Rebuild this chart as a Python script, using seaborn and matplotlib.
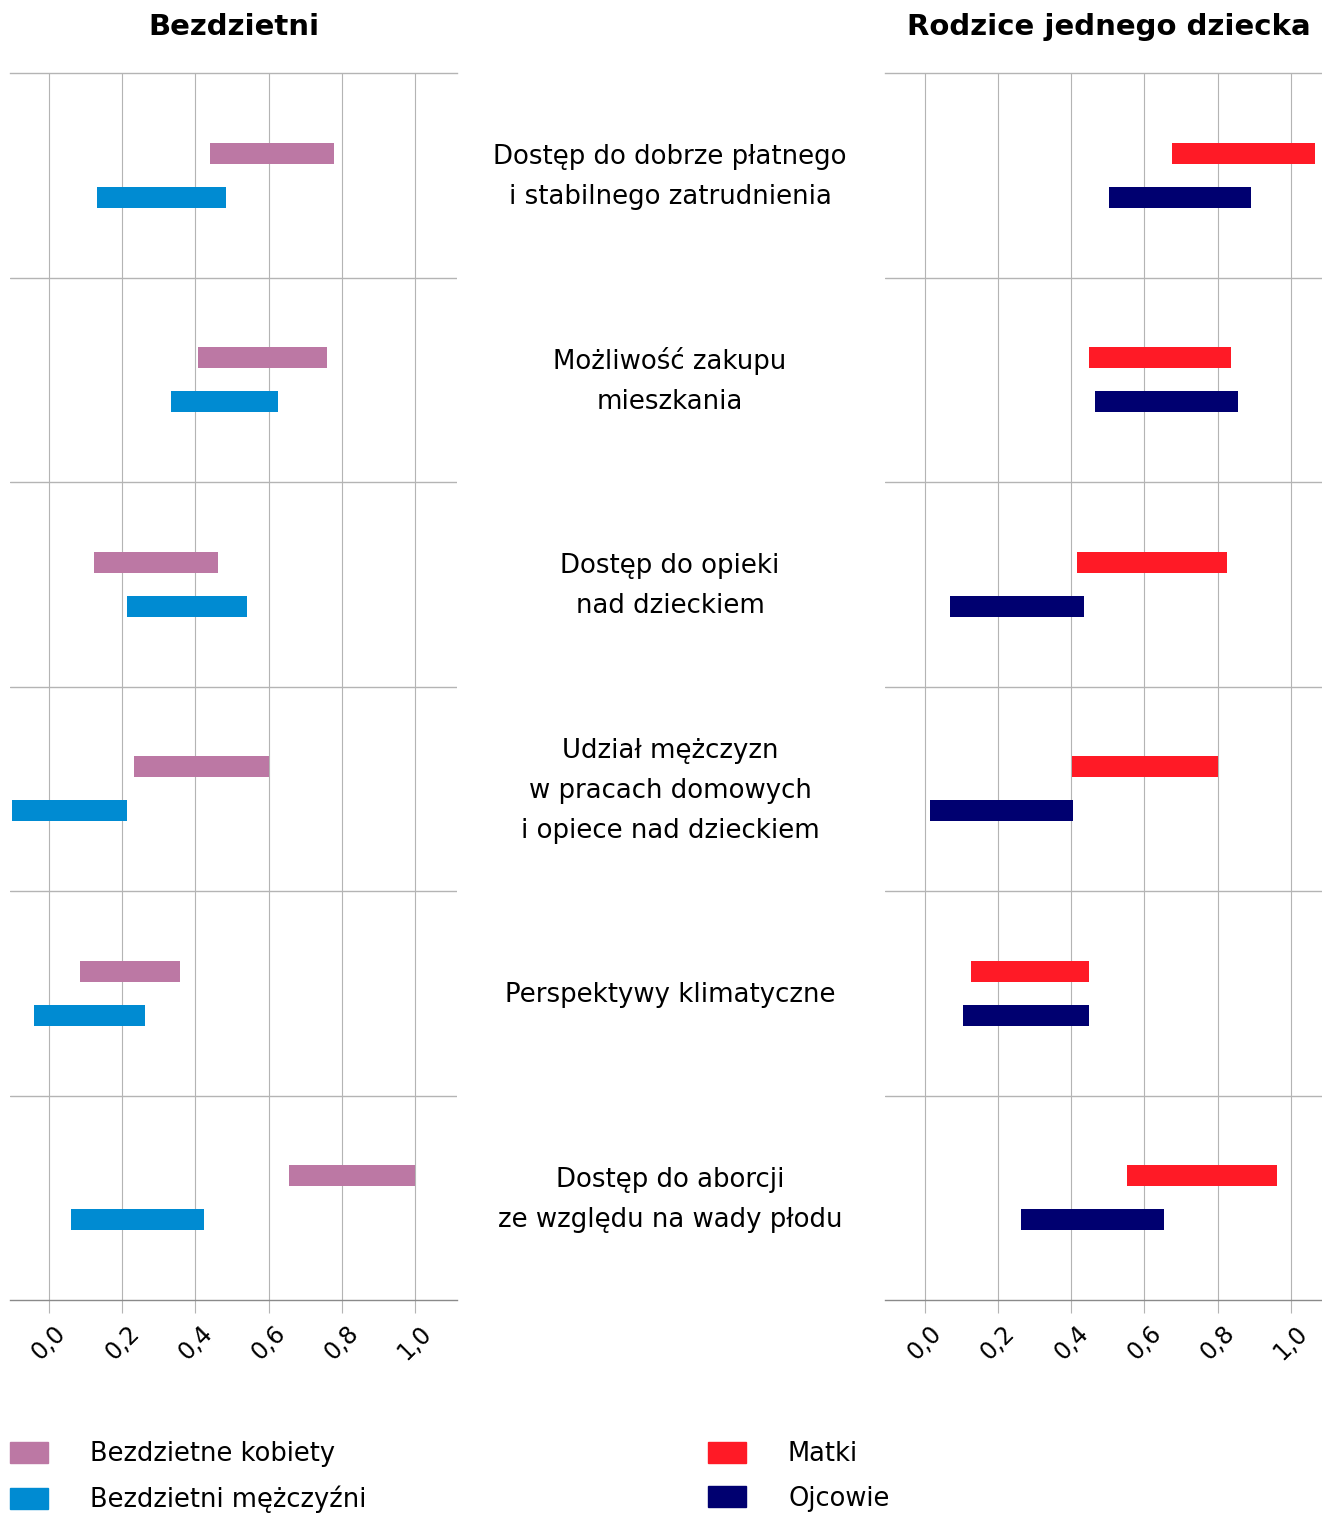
import numpy as np
import pandas as pd
import matplotlib
matplotlib.use("Agg")
import matplotlib.pyplot as plt
import seaborn as sns
from matplotlib.patches import Patch
from matplotlib.transforms import blended_transform_factory

# ---------------- data ----------------
categories = [
    "Dostęp do dobrze płatnego\ni stabilnego zatrudnienia",
    "Możliwość zakupu\nmieszkania",
    "Dostęp do opieki\nnad dzieckiem",
    "Udział mężczyzn\nw pracach domowych\ni opiece nad dzieckiem",
    "Perspektywy klimatyczne",
    "Dostęp do aborcji\nze względu na wady płodu",
]

women_start = [0.440, 0.407, 0.122, 0.233, 0.083, 0.655]
women_end   = [0.779, 0.759, 0.461, 0.601, 0.357, 1.000]
men_start   = [0.130, 0.332, 0.212, -0.101, -0.041, 0.059]
men_end     = [0.484, 0.625, 0.541, 0.212, 0.263, 0.423]

mothers_start = [0.674, 0.448, 0.416, 0.401, 0.126, 0.552]
mothers_end   = [1.065, 0.837, 0.825, 0.801, 0.448, 0.962]
fathers_start = [0.502, 0.466, 0.068, 0.015, 0.104, 0.262]
fathers_end   = [0.890, 0.856, 0.435, 0.405, 0.448, 0.653]

x_ticks = [0.0, 0.2, 0.4, 0.6, 0.8, 1.0]
x_tick_labels = ["0,0", "0,2", "0,4", "0,6", "0,8", "1,0"]

title_left = "Bezdzietni"
title_right = "Rodzice jednego dziecka"
legend_left = ["Bezdzietne kobiety", "Bezdzietni mężczyźni"]
legend_right = ["Matki", "Ojcowie"]

PINK = "#BC78A4"
BLUE = "#008BD2"
RED = "#FF1A26"
NAVY = "#000070"

# ---------------- style ----------------
sns.set_theme(style="white")
plt.rcParams["font.family"] = ["DejaVu Sans"]
plt.rcParams["text.color"] = "black"
plt.rcParams["xtick.color"] = "black"

W, H = 1322, 1513
fig = plt.figure(figsize=(W / 100, H / 100), dpi=100)

top_px, bot_px = 73, 1300
axL = fig.add_axes([10 / W, 1 - bot_px / H, 447 / W, (bot_px - top_px) / H])
axR = fig.add_axes([885 / W, 1 - bot_px / H, 437 / W, (bot_px - top_px) / H])

n = len(categories)
row_px = (bot_px - top_px) / n
BAR_T = 0.104
OFF = 0.108
GRID = "#b4b4b4"


def draw_panel(ax, series, xlim):
    for starts, ends, color, off in series:
        starts = np.asarray(starts, dtype=float)
        ends = np.asarray(ends, dtype=float)
        df = pd.DataFrame({"pos": np.arange(n) + off, "span": ends - starts})
        sns.barplot(
            data=df, x="span", y="pos", orient="y", native_scale=True,
            width=BAR_T, color=color, saturation=1, errorbar=None,
            left=starts, linewidth=0, ax=ax,
        )
    ax.set_xlim(*xlim)
    ax.set_ylim(n - 0.5, -0.5)
    ax.set_yticks([])
    ax.set_xlabel("")
    ax.set_ylabel("")
    ax.set_xticks(x_ticks)
    ax.set_xticklabels(x_tick_labels, rotation=45, ha="center")
    ax.tick_params(axis="x", bottom=True, length=9.4, width=0.8, color=GRID,
                   labelsize=17, pad=6, labelcolor="black")
    ax.grid(axis="x", color=GRID, linewidth=0.8)
    ax.grid(axis="y", visible=False)
    ax.set_axisbelow(True)
    for b in np.arange(0.5, n - 0.5, 1.0):
        ax.axhline(b, color=GRID, linewidth=1.0, zorder=0.5)
    ax.spines["left"].set_visible(False)
    ax.spines["right"].set_visible(False)
    ax.spines["top"].set_visible(True)
    ax.spines["top"].set_color(GRID)
    ax.spines["top"].set_linewidth(1.0)
    ax.spines["bottom"].set_color("#8a8a8a")
    ax.spines["bottom"].set_linewidth(1.0)
    leg = ax.get_legend()
    if leg is not None:
        leg.remove()


draw_panel(axL, [(women_start, women_end, PINK, -OFF),
                 (men_start, men_end, BLUE, OFF)], (-0.107, 1.115))
draw_panel(axR, [(mothers_start, mothers_end, RED, -OFF),
                 (fathers_start, fathers_end, NAVY, OFF)], (-0.109, 1.085))

# ---------------- titles ----------------
fig.text(233.5 / W, 1 - 35 / H, title_left, ha="center", va="baseline",
         fontsize=21, fontweight="bold", color="black")
fig.text(1109 / W, 1 - 35 / H, title_right, ha="center", va="baseline",
         fontsize=21, fontweight="bold", color="black")

# ---------------- center category labels ----------------
trans = blended_transform_factory(fig.transFigure, axL.transData)
for i, cat in enumerate(categories):
    lines = cat.split("\n")
    m = len(lines)
    for k, line in enumerate(lines):
        dy_px = 9 + (k - (m - 1) / 2) * 40
        axL.text(670 / W, i + dy_px / row_px, line, transform=trans,
                 ha="center", va="baseline", fontsize=18.7, color="black",
                 clip_on=False)

# ---------------- legends ----------------
fs_px = 18.5 * 100 / 72
leg_kw = dict(loc="upper left", bbox_transform=fig.transFigure, frameon=False,
              borderpad=0, borderaxespad=0, fontsize=18.5,
              handlelength=38 / fs_px, handleheight=0.88,
              handletextpad=(90 - 48) / fs_px, labelspacing=0.72,
              labelcolor="black")
lg1 = fig.legend(handles=[Patch(color=PINK, label=legend_left[0]),
                          Patch(color=BLUE, label=legend_left[1])],
                 bbox_to_anchor=(10 / W, 1 - 1441 / H), **leg_kw)
lg2 = fig.legend(handles=[Patch(color=RED, label=legend_right[0]),
                          Patch(color=NAVY, label=legend_right[1])],
                 bbox_to_anchor=(708 / W, 1 - 1441 / H), **leg_kw)

fig.savefig("out.png", dpi=100)
